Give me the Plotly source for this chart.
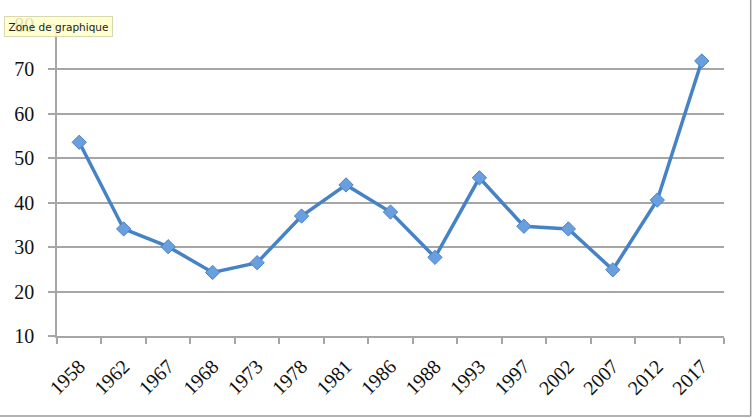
import plotly.graph_objects as go

years = ["1958", "1962", "1967", "1968", "1973", "1978", "1981", "1986",
         "1988", "1993", "1997", "2002", "2007", "2012", "2017"]
values = [53.6, 34.1, 30.1, 24.3, 26.5, 37.0, 44.0, 37.9,
          27.7, 45.6, 34.7, 34.1, 24.9, 40.6, 71.9]
y_ticks = [10, 20, 30, 40, 50, 60, 70, 80]

fig = go.Figure()
fig.add_trace(go.Scatter(
    x=years, y=values, mode="lines+markers",
    line=dict(color="#4683c6", width=3.5),
    marker=dict(symbol="diamond", size=11, color="#6a9fdf",
                line=dict(color="#4a83c4", width=1)),
    hoverinfo="skip",
))

axis_font = dict(family="Liberation Serif", size=20, color="#111111")
fig.update_layout(
    width=754, height=418,
    margin=dict(l=57, r=30, t=25, b=82),
    paper_bgcolor="white", plot_bgcolor="white",
    showlegend=False,
    xaxis=dict(
        type="category", range=[-0.5, len(years) - 0.5], automargin=False,
        tickangle=-45, tickfont=axis_font, ticklabelstandoff=9,
        showgrid=False, showline=True, linecolor="#a6a6a6", linewidth=1.5,
        ticks="outside", tickson="boundaries", ticklen=6,
        tickcolor="#a6a6a6", tickwidth=1.5,
    ),
    yaxis=dict(
        range=[10, 80], tickvals=y_ticks, tickfont=axis_font, automargin=False,
        ticklabelstandoff=10,
        showgrid=True, gridcolor="#a6a6a6", gridwidth=1.5,
        showline=True, linecolor="#a6a6a6", linewidth=1.5,
        ticks="outside", ticklen=7, tickcolor="#a6a6a6", tickwidth=1.5,
        zeroline=False,
    ),
    shapes=[
        dict(type="line", xref="paper", yref="paper",
             x0=-0.2, x1=1.04, y0=-0.257, y1=-0.257,
             line=dict(color="#9a9a9a", width=1.5)),
        dict(type="line", xref="paper", yref="paper",
             x0=1.04, x1=1.04, y0=-0.257, y1=1.2,
             line=dict(color="#9a9a9a", width=1.5)),
    ],
    annotations=[
        dict(text="Zone de graphique", xref="paper", yref="paper",
             x=-0.0795, y=0.995, xanchor="left", yanchor="middle",
             showarrow=False,
             font=dict(family="DejaVu Sans", size=10.5, color="#222222"),
             bgcolor="rgba(255,255,200,0.85)", bordercolor="#d8d8b0",
             borderwidth=1, borderpad=3.5),
    ],
)

fig.write_html(
    "out.html",
    config={"displayModeBar": False},
    post_script="document.body.style.margin='0';"
                "document.body.style.overflow='hidden';",
)
